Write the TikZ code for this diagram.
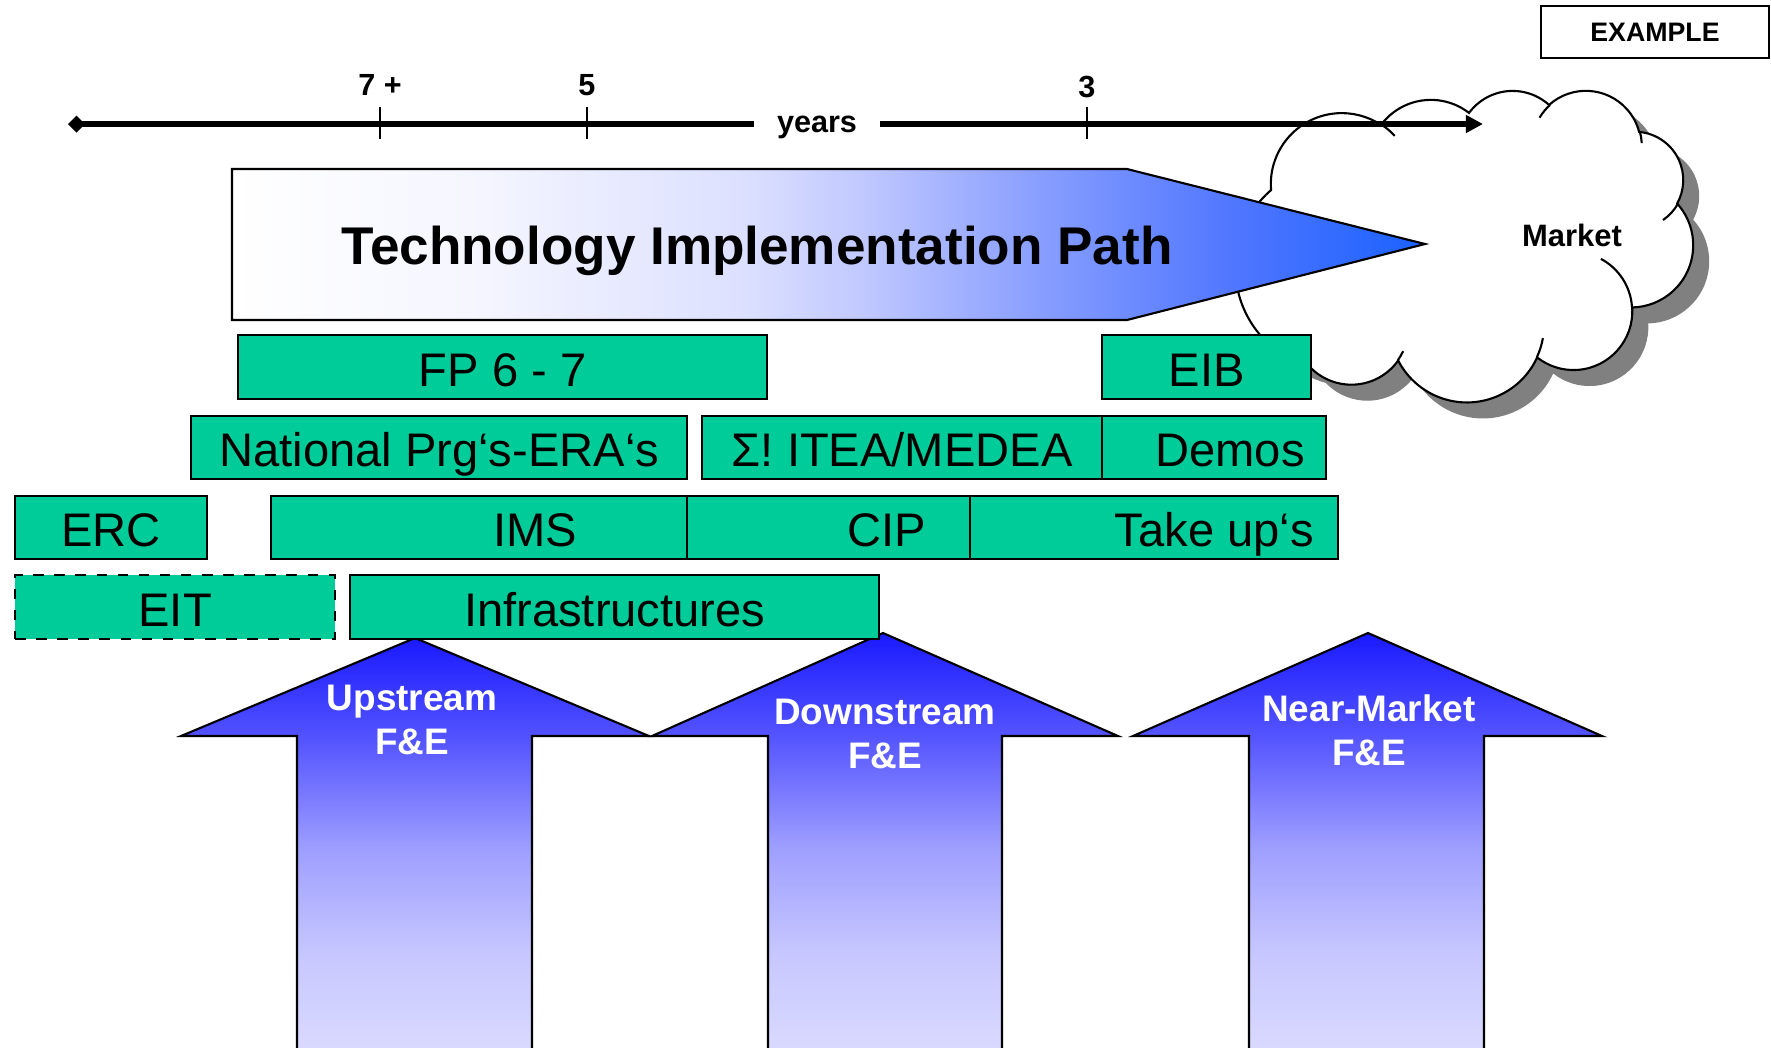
\documentclass[tikz,border=0pt]{standalone}
\usepackage{fontspec}
\setmainfont{Liberation Sans}
\usetikzlibrary{arrows.meta,shadows}
\definecolor{ecgreen}{RGB}{0,204,153}
\pgfdeclarehorizontalshading{implshade}{100bp}{rgb(0bp)=(1,1,1); rgb(25bp)=(1,1,1);
  rgb(35bp)=(0.96,0.965,1); rgb(46.5bp)=(0.863,0.878,1); rgb(51.5bp)=(0.753,0.784,1);
  rgb(57bp)=(0.588,0.659,1); rgb(62.5bp)=(0.431,0.549,1); rgb(67bp)=(0.314,0.463,1);
  rgb(75bp)=(0.1,0.384,1); rgb(100bp)=(0.1,0.384,1)}
\pgfdeclareverticalshading{feshade}{100bp}{rgb(0bp)=(0.86,0.86,1); rgb(25bp)=(0.86,0.86,1);
  rgb(37.5bp)=(0.78,0.78,1); rgb(50bp)=(0.62,0.62,1); rgb(62.5bp)=(0.34,0.34,1);
  rgb(75bp)=(0.1,0.1,1); rgb(100bp)=(0.1,0.1,1)}
\begin{document}
\begin{tikzpicture}[x=0.01cm,y=-0.01cm,
  bar/.style={draw,line width=0.6pt,fill=ecgreen,anchor=west,minimum height=0.635cm,inner sep=0pt,
    text height=0.38cm,text depth=0pt,font=\fontsize{13.4}{16}\selectfont},
  fearrow/.style={draw,line width=0.6pt,shading=feshade},
  felabel/.style={text=white,align=center,font=\bfseries\fontsize{10.5}{12.5}\selectfont},
  ticklabel/.style={font=\bfseries\fontsize{8.7}{10}\selectfont}]
\useasboundingbox (0,0) rectangle (1771,1047);
\clip (0,0) rectangle (1771,1047);
% market cloud
\draw[line width=0.6pt,fill=white,drop shadow={shadow xshift=0.16cm,shadow yshift=-0.16cm,fill=black!50,opacity=1}]
  (1310,367) arc[start angle=106,end angle=229.2,radius=103]
  arc[start angle=175.2,end angle=303.5,radius=71]
  arc[start angle=216.7,end angle=307.8,radius=62.2]
  arc[start angle=216.5,end angle=312.1,radius=54.3]
  arc[start angle=228.1,end angle=345.3,radius=55.1]
  arc[start angle=275,end angle=389.1,radius=48.3]
  arc[start angle=-42.1,end angle=88.9,radius=62.2]
  arc[start angle=-3.7,end angle=128.2,radius=58.8]
  arc[start angle=24.7,end angle=152.8,radius=77.3]
  arc[start angle=35.3,end angle=135.6,radius=57.4] -- cycle;
\draw[line width=0.6pt] (1382,125) arc[start angle=303.5,end angle=317,radius=71];
\draw[line width=0.6pt] (1550,105) arc[start angle=228.1,end angle=211,radius=55.1];
\draw[line width=0.6pt] (1640,132) arc[start angle=345.3,end angle=357,radius=55.1];
\draw[line width=0.6pt] (1678,203.6) arc[start angle=29.1,end angle=55.7,radius=48.3];
\draw[line width=0.6pt] (1632,307) arc[start angle=-3.7,end angle=-62,radius=58.8];
\draw[line width=0.6pt] (1537,357) arc[start angle=24.7,end angle=10,radius=77.3];
\draw[line width=0.6pt] (1398,360) arc[start angle=35.3,end angle=25,radius=57.4];
\node[font=\bfseries\fontsize{8.8}{10}\selectfont] (market) at (1572,235) {Market};
% time line
\node[ticklabel,inner xsep=0.22cm,text height=0.16cm,text depth=0pt] (years) at (817,124) {years};
\coordinate (tl) at (68,124);
\coordinate (tr) at (1483,124);
\draw[line width=1.5pt,{Diamond[length=0.17cm,width=0.17cm]}-] (tl) -- (years.west);
\draw[line width=1.5pt,-{Triangle[length=0.17cm,width=0.17cm]}] (years.east) -- (tr);
\foreach \x/\t/\ty in {380/7 +/85,587/5/85,1087/3/87} {
  \draw[line width=0.5pt] (\x,107) -- (\x,139);
  \node[ticklabel] (t\x) at (\x,\ty) {\t};
}
% implementation path
\draw[line width=0.6pt,shading=implshade]
  (232,169) -- (1127,169) -- (1425,244) -- (1127,320) -- (232,320) -- cycle;
\node[font=\bfseries\fontsize{15.1}{18}\selectfont] (path) at (757,251) {Technology Implementation Path};
% F&E arrows
\draw[fearrow] (297,1060) -- (297,736) -- (181,736) -- (415,638) -- (649,736) -- (532,736) -- (532,1060);
\draw[fearrow] (768,1060) -- (768,736) -- (652,736) -- (883,633) -- (1118,736) -- (1002,736) -- (1002,1060);
\draw[fearrow] (1249,1060) -- (1249,736) -- (1133,736) -- (1368,633) -- (1602,736) -- (1484,736) -- (1484,1060);
\node[felabel] (up) at (412,720) {Upstream\\F\&E};
\node[felabel] (down) at (885,734) {Downstream\\F\&E};
\node[felabel] (near) at (1369,730) {Near-Market\\F\&E};
% programmes
\node[bar,minimum width=5.29cm] (fp) at (237,367) {FP 6 - 7};
\node[bar,minimum width=2.09cm] (eib) at (1101,367) {EIB};
\node[bar,minimum width=4.96cm] (nat) at (190,447.5) {National Prg‘s-ERA‘s};
\node[bar,minimum width=4.00cm] (itea) at (701,447.5) {Σ! ITEA/MEDEA};
\node[bar,minimum width=2.24cm] (demos) at (1101,447.5) {\hspace*{0.32cm}Demos};
\node[bar,minimum width=1.92cm] (erc) at (14,527.5) {ERC};
\node[bar,minimum width=4.16cm] (ims) at (270,527.5) {\hspace*{1.12cm}IMS};
\node[bar,minimum width=2.83cm] (cip) at (686,527.5) {\hspace*{1.16cm}CIP};
\node[bar,minimum width=3.68cm] (takeup) at (969,527.5) {\hspace*{1.2cm}Take up‘s};
\node[bar,dashed,minimum width=3.20cm] (eit) at (14,607) {EIT};
\node[bar,minimum width=5.29cm] (infra) at (349,607) {Infrastructures};
% label
\node[draw,line width=0.5pt,minimum width=2.28cm,minimum height=0.52cm,font=\bfseries\fontsize{7.6}{9}\selectfont] (example) at (1655,32) {EXAMPLE};
\end{tikzpicture}
\end{document}
